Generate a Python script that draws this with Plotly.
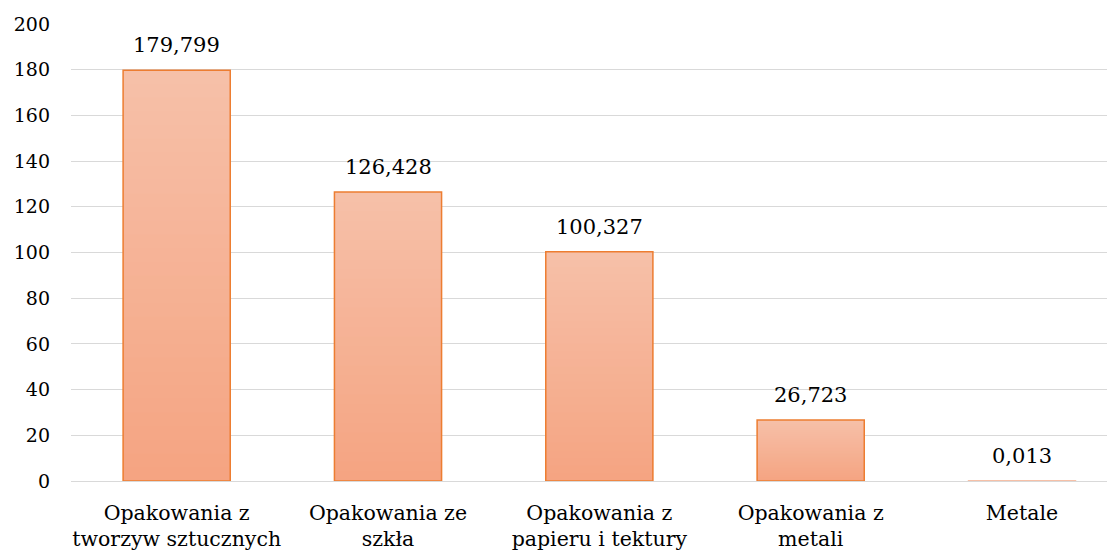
import plotly.graph_objects as go

categories = ["Opakowania z<br>tworzyw sztucznych", "Opakowania ze<br>szkła",
              "Opakowania z<br>papieru i tektury", "Opakowania z<br>metali", "Metale"]
values = [179.799, 126.428, 100.327, 26.723, 0.013]
tick_vals = [0, 20, 40, 60, 80, 100, 120, 140, 160, 180, 200]

FONT = "DejaVu Serif"
top_rgb = (246, 192, 168)
bot_rgb = (245, 164, 130)
N = 30

fig = go.Figure()
# gradient: overlay progressively shorter bars with darker colours
for k in range(N):
    frac = 1 - k / N
    t = k / (N - 1)
    c = tuple(round(top_rgb[i] + (bot_rgb[i] - top_rgb[i]) * t) for i in range(3))
    fig.add_trace(go.Bar(
        x=categories, y=[v * frac for v in values],
        marker=dict(color=f"rgb{c}", line=dict(width=0)),
        width=0.507, hoverinfo="skip", showlegend=False))
# outline
fig.add_trace(go.Bar(
    x=categories, y=values, width=0.507,
    marker=dict(color="rgba(0,0,0,0)",
                line=dict(color=["#ED7D31"] * 4 + ["#F6C9B2"], width=1.5)),
    showlegend=False))

for c, v in zip(categories, values):
    fig.add_annotation(x=c, y=v, text=f"{v:.3f}".replace(".", ","),
                       showarrow=False, yanchor="bottom", yshift=11,
                       font=dict(family=FONT, size=21, color="#000000"))

fig.update_layout(
    width=1107, height=543, barmode="overlay",
    margin=dict(l=63.4, r=0, t=15.7, b=70),
    paper_bgcolor="white", plot_bgcolor="white",
    font=dict(family=FONT, size=20, color="#000000"),
)
fig.update_xaxes(type="category", range=[-0.5, 4.44], showgrid=False,
                 showline=False, ticks="", automargin=False,
                 ticklabelstandoff=17,
                 tickfont=dict(family=FONT, size=20.5))
fig.update_yaxes(range=[0, 200], tickvals=tick_vals, showgrid=True,
                 gridcolor="#D9D9D9", gridwidth=1.3, zeroline=True,
                 zerolinecolor="#D9D9D9", zerolinewidth=1.3,
                 showline=False, ticks="", automargin=False,
                 ticklabelstandoff=20,
                 tickfont=dict(family=FONT, size=19))

fig.write_html("out.html")
